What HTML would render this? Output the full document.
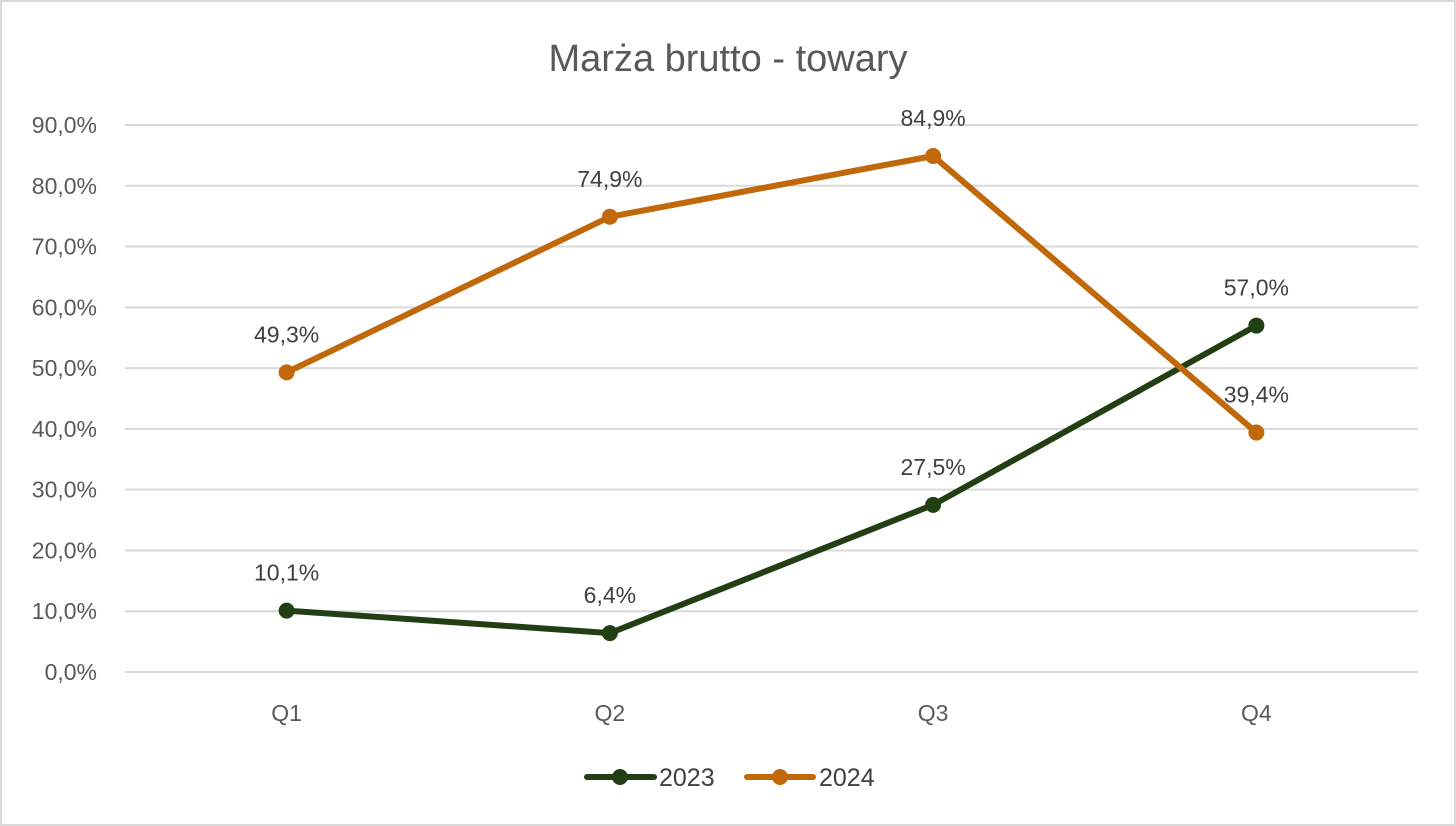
<!DOCTYPE html>
<html><head><meta charset="utf-8"><style>
html,body{margin:0;padding:0;background:#fff}
svg{display:block;font-family:"Liberation Sans",sans-serif}
</style></head><body>
<svg id="chart" width="1456" height="826" viewBox="0 0 1456 826">
<rect x="1" y="1" width="1454" height="824" fill="#fff" stroke="#d9d9d9" stroke-width="2"/>
<text x="728" y="71" text-anchor="middle" font-size="38" fill="#595959">Marża brutto - towary</text>
<g id="grid"></g><g id="yticks"></g><g id="xticks"></g><g id="series"></g><g id="labels"></g>
<g>
<g>
<line x1="587" y1="777" x2="654" y2="777" stroke="#223f14" stroke-width="6" stroke-linecap="round"/>
<circle cx="620" cy="777" r="8" fill="#223f14"/>
<text x="659" y="786" font-size="25" fill="#404040">2023</text></g>
<g>
<line x1="747" y1="777" x2="813" y2="777" stroke="#c0680a" stroke-width="6" stroke-linecap="round"/>
<circle cx="780" cy="777" r="8" fill="#c0680a"/>
<text x="819" y="786" font-size="25" fill="#404040">2024</text></g>
</g>
</svg>
<script>
const categories=["Q1","Q2","Q3","Q4"];
const series2023=[10.1,6.4,27.5,57.0];
const series2024=[49.3,74.9,84.9,39.4];
const yTicks=[0,10,20,30,40,50,60,70,80,90];
const NS="http://www.w3.org/2000/svg";
const x0=125,x1=1418,y0=672,yTop=125,yMax=90;
const xs=i=>x0+(x1-x0)/categories.length*(i+0.5);
const ys=v=>y0-(y0-yTop)*v/yMax;
const fmt=v=>v.toFixed(1).replace('.',',')+'%';
function mk(tag,attrs,parent){const e=document.createElementNS(NS,tag);for(const k in attrs)e.setAttribute(k,attrs[k]);document.getElementById(parent).appendChild(e);return e;}
yTicks.forEach(t=>{
 const l=mk('line',{x1:x0,x2:x1,y1:ys(t),y2:ys(t),stroke:'#d9d9d9','stroke-width':2},'grid');
 
 
 const tx=mk('text',{x:97,y:ys(t)+8,'text-anchor':'end','font-size':23,fill:'#595959'},'yticks');
 tx.textContent=fmt(t);
 
 
});
categories.forEach((c,i)=>{
 const tx=mk('text',{x:xs(i),y:721,'text-anchor':'middle','font-size':23,fill:'#595959'},'xticks');
 tx.textContent=c;
 
 
});
function draw(vals,color,name){
 const p=mk('polyline',{points:vals.map((v,i)=>xs(i)+','+ys(v)).join(' '),fill:'none',stroke:color,'stroke-width':6,'stroke-linejoin':'round'},'series');
 
 
 vals.forEach((v,i)=>{
  const c=mk('circle',{cx:xs(i),cy:ys(v),r:8,fill:color},'series');
  
  
  const t=mk('text',{x:xs(i),y:ys(v)-30,'text-anchor':'middle','font-size':23,fill:'#404040'},'labels');
  t.textContent=fmt(v);
  
  
 });
}
draw(series2023,'#223f14','2023');
draw(series2024,'#c0680a','2024');
</script>
</body></html>
